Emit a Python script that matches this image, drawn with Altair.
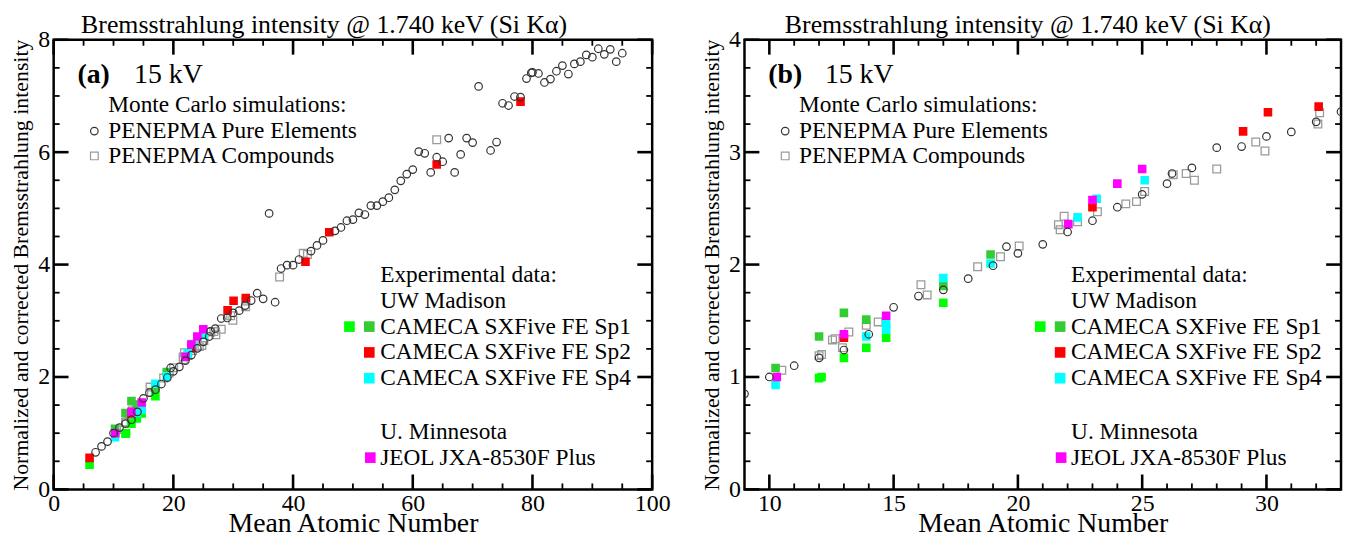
import altair as alt
import pandas as pd

FONT = "Liberation Serif"
TITLE = "Bremsstrahlung intensity @ 1.740 keV (Si Kα)"
INK = "black"

# PENEPMA pure elements (open circles)
pure_z = [7, 8, 9, 10, 11, 12, 13, 14, 15, 16, 17, 18, 19, 19.54, 20, 21, 22, 23, 24, 25, 26, 26.2,
          27, 28, 29, 30, 31, 32, 33, 34, 35, 36, 37, 38, 39, 40, 41, 43, 44, 45,
          47, 48, 49, 50, 51, 52, 53, 54, 55, 56, 57, 58, 59, 60, 61, 62, 63, 64, 65, 66, 67, 68, 69, 70, 71,
          73, 74, 75, 76, 77, 78, 79, 79.8, 80, 81, 82, 83, 84, 85, 86, 87, 88, 89, 90, 91, 92, 93, 94, 95]
pure_i = [0.66, 0.765, 0.85, 1.0, 1.10, 1.17, 1.24, 1.38, 1.62, 1.72, 1.775, 1.875, 1.99, 2.16,
          2.10, 2.18, 2.29, 2.39, 2.51, 2.625, 2.72, 2.81,
          2.86, 3.04, 3.05, 3.14, 3.18, 3.27, 3.36, 3.49, 3.39, 4.91, 3.33, 3.93, 3.99, 3.99, 4.09,
          4.24, 4.34, 4.43,
          4.60, 4.66, 4.78, 4.80, 4.92, 4.89, 5.05, 5.05, 5.12, 5.19, 5.33, 5.49, 5.61, 5.69, 6.01, 5.98,
          5.64, 5.91, 5.83, 6.25, 5.64, 5.96, 6.25, 6.17, 7.17,
          6.03, 6.18, 6.87, 6.83, 6.99, 6.98, 7.31, 7.41,
          7.42, 7.40, 7.24, 7.30, 7.44, 7.54, 7.39, 7.57, 7.61, 7.73, 7.69, 7.84, 7.74, 7.83, 7.61, 7.76]

# PENEPMA compounds (open grey squares)
comp_z = [10.5, 12.0, 12.1, 12.54, 12.65, 12.94, 13.2, 13.9, 14.38, 16.1, 16.35, 18.38, 19.3, 20.05,
          21.63, 21.7, 21.86, 22.4, 23.2, 24.34, 24.77, 25.1, 26.25, 26.77, 27.1, 28.0, 29.57, 29.94,
          32.07, 32.14, 37.75, 41.7, 42.4, 64.0]
comp_i = [1.06, 1.19, 1.20, 1.33, 1.34, 1.26, 1.40, 1.46, 1.49, 1.82, 1.73, 1.98, 2.07, 2.165,
          2.355, 2.31, 2.43, 2.38, 2.47, 2.54, 2.56, 2.65, 2.80, 2.81, 2.75, 2.85, 3.09, 3.01,
          3.25, 3.35, 3.78, 4.20, 4.18, 6.22]

# CAMECA SXFive FE Sp1 (two greens)
sp1a_z = [6.0, 12.0, 12.1, 13.0, 13.9, 14.7, 17.0]
sp1a_i = [0.44, 0.99, 1.0, 1.17, 1.26, 1.35, 1.66]
sp1b_z = [10.25, 12.0, 13.0, 13.9, 17.0, 18.9]
sp1b_i = [1.08, 1.36, 1.57, 1.51, 1.81, 2.09]
# CAMECA SXFive FE Sp2
sp2_z = [6.0, 13.0, 23.0, 29.06, 30.06, 32.1, 42.07, 46.05, 64.0, 78.0]
sp2_i = [0.56, 1.35, 2.51, 3.185, 3.355, 3.405, 4.05, 4.575, 5.78, 6.90]
# CAMECA SXFive FE Sp4
sp4_z = [10.25, 13.9, 14.7, 14.7, 17.0, 18.9, 22.4, 23.17, 25.1]
sp4_i = [0.93, 1.36, 1.42, 1.47, 1.88, 2.01, 2.42, 2.585, 2.75]
# JEOL JXA-8530F Plus
jeol_z = [10.3, 13.0, 14.7, 22.03, 23.0, 24.0, 25.0]
jeol_i = [1.0, 1.38, 1.545, 2.36, 2.575, 2.72, 2.85]

# axis tick values
a_x_major = [0, 20, 40, 60, 80, 100]
a_x_minor = [5, 10, 15, 25, 30, 35, 45, 50, 55, 65, 70, 75, 85, 90, 95]
a_y_major = [0, 2, 4, 6, 8]
a_y_minor = [0.5, 1, 1.5, 2.5, 3, 3.5, 4.5, 5, 5.5, 6.5, 7, 7.5]
b_x_major = [10, 15, 20, 25, 30]
b_x_minor = [11, 12, 13, 14, 16, 17, 18, 19, 21, 22, 23, 24, 26, 27, 28, 29, 31, 32]
b_y_major = [0, 1, 2, 3, 4]
b_y_minor = [0.25, 0.5, 0.75, 1.25, 1.5, 1.75, 2.25, 2.5, 2.75, 3.25, 3.5, 3.75]

H = 453


def df(z, i):
    return pd.DataFrame({"Z": z, "I": i})


def one(t):
    return pd.DataFrame({"t": [t]})


def panel(tag, xdom, ydom, xmaj, xmin, ymaj, ymin, W, tdx):
    xs = alt.Scale(domain=xdom, nice=False, zero=False)
    ys = alt.Scale(domain=ydom, nice=False, zero=False)
    xaxis = alt.Axis(values=xmaj, title="Mean Atomic Number", format="d")
    yaxis = alt.Axis(values=ymaj, title="Normalized and corrected Bremsstrahlung intensity", format="d")

    layers = []
    layers.append(
        alt.Chart(df(comp_z, comp_i)).mark_point(shape="square", filled=False, size=60,
                                                 stroke="#9a9a9a", strokeWidth=1.3, opacity=1, clip=True)
        .encode(x=alt.X("Z:Q", scale=xs, axis=xaxis), y=alt.Y("I:Q", scale=ys, axis=yaxis))
    )
    for (z, i, c) in [(sp1a_z, sp1a_i, "#00ff00"), (sp1b_z, sp1b_i, "#33cc33"),
                      (sp2_z, sp2_i, "#ff0000"), (sp4_z, sp4_i, "#00ffff"),
                      (jeol_z, jeol_i, "#ff00ff")]:
        layers.append(
            alt.Chart(df(z, i)).mark_square(size=75, color=c, opacity=1, clip=True)
            .encode(x=alt.X("Z:Q", scale=xs), y=alt.Y("I:Q", scale=ys))
        )
    layers.append(
        alt.Chart(df(pure_z, pure_i)).mark_point(shape="circle", filled=False, size=58,
                                                 stroke="#333333", strokeWidth=1.2, opacity=1, clip=True)
        .encode(x=alt.X("Z:Q", scale=xs), y=alt.Y("I:Q", scale=ys))
    )

    # inward ticks on all four sides (major long, minor short)
    for vals, ln, sw in [(xmaj, 15, 2.6), (xmin, 6, 1.8)]:
        d = pd.DataFrame({"Z": vals})
        layers.append(alt.Chart(d).mark_rule(color=INK, strokeWidth=sw)
                      .encode(x=alt.X("Z:Q", scale=xs), y=alt.value(H), y2=alt.value(H - ln)))
        layers.append(alt.Chart(d).mark_rule(color=INK, strokeWidth=sw)
                      .encode(x=alt.X("Z:Q", scale=xs), y=alt.value(0), y2=alt.value(ln)))
    for vals, ln, sw in [(ymaj, 15, 2.6), (ymin, 6, 1.8)]:
        d = pd.DataFrame({"I": vals})
        layers.append(alt.Chart(d).mark_rule(color=INK, strokeWidth=sw)
                      .encode(y=alt.Y("I:Q", scale=ys), x=alt.value(0), x2=alt.value(ln)))
        layers.append(alt.Chart(d).mark_rule(color=INK, strokeWidth=sw)
                      .encode(y=alt.Y("I:Q", scale=ys), x=alt.value(W), x2=alt.value(W - ln)))

    def txt(t, x, y, size=23.5, weight="normal"):
        return alt.Chart(one(t)).mark_text(font=FONT, fontSize=size, fontWeight=weight, color="black",
                                          align="left", baseline="middle").encode(
            x=alt.value(x), y=alt.value(y), text="t:N")

    def sym(x, y, shape, filled, color, size):
        if filled:
            m = alt.Chart(one("s")).mark_point(shape=shape, filled=True, size=size, color=color, opacity=1)
        else:
            m = alt.Chart(one("s")).mark_point(shape=shape, filled=False, size=size, stroke=color,
                                               strokeWidth=1.2, opacity=1)
        return m.encode(x=alt.value(x), y=alt.value(y))

    layers += [
        txt(tag, 24, 36, 28, "bold"),
        txt("15 kV", 81, 36, 28),
        txt("Monte Carlo simulations:", 55, 66),
        sym(41, 92, "circle", False, "#333333", 58),
        txt("PENEPMA Pure Elements", 55, 92),
        sym(41, 117, "square", False, "#9a9a9a", 60),
        txt("PENEPMA Compounds", 55, 117),
        txt("Experimental data:", 329, 237),
        txt("UW Madison", 329, 263),
        sym(298, 289, "square", True, "#00ff00", 115),
        sym(318, 289, "square", True, "#33cc33", 115),
        txt("CAMECA SXFive FE Sp1", 329, 289),
        sym(318, 315, "square", True, "#ff0000", 115),
        txt("CAMECA SXFive FE Sp2", 329, 315),
        sym(318, 341, "square", True, "#00ffff", 115),
        txt("CAMECA SXFive FE Sp4", 329, 341),
        txt("U. Minnesota", 329, 395),
        sym(319, 421, "square", True, "#ff00ff", 115),
        txt("JEOL JXA-8530F Plus", 329, 421),
    ]

    return alt.layer(*layers).properties(
        width=W, height=H,
        title=alt.TitleParams(TITLE, font=FONT, fontSize=26, fontWeight="normal", color="black",
                              anchor="middle", frame="group", offset=-10, dx=tdx),
    )


left = panel("(a)", [0, 100], [0, 8], a_x_major, a_x_minor, a_y_major, a_y_minor, 603, -29)
right = panel("(b)", [9, 33], [0, 4], b_x_major, b_x_minor, b_y_major, b_y_minor, 601, -15)

chart = alt.hconcat(left, right, spacing=27).properties(
    padding={"left": 0, "top": 0, "right": 0, "bottom": 0}
).configure_view(stroke=INK, strokeWidth=2.5).configure_axis(
    ticks=False, domain=False, grid=False,
    labelFont=FONT, labelFontSize=24, labelColor="black", labelFlush=False, labelOverlap=False,
    titleFont=FONT, titleColor="black", titleFontWeight="normal",
).configure_axisX(labelPadding=2, titleFontSize=28, titlePadding=-6).configure_axisY(
    labelPadding=4, titleFontSize=22, titlePadding=5)

chart.save("out.html", embed_options={"renderer": "svg", "actions": False})
